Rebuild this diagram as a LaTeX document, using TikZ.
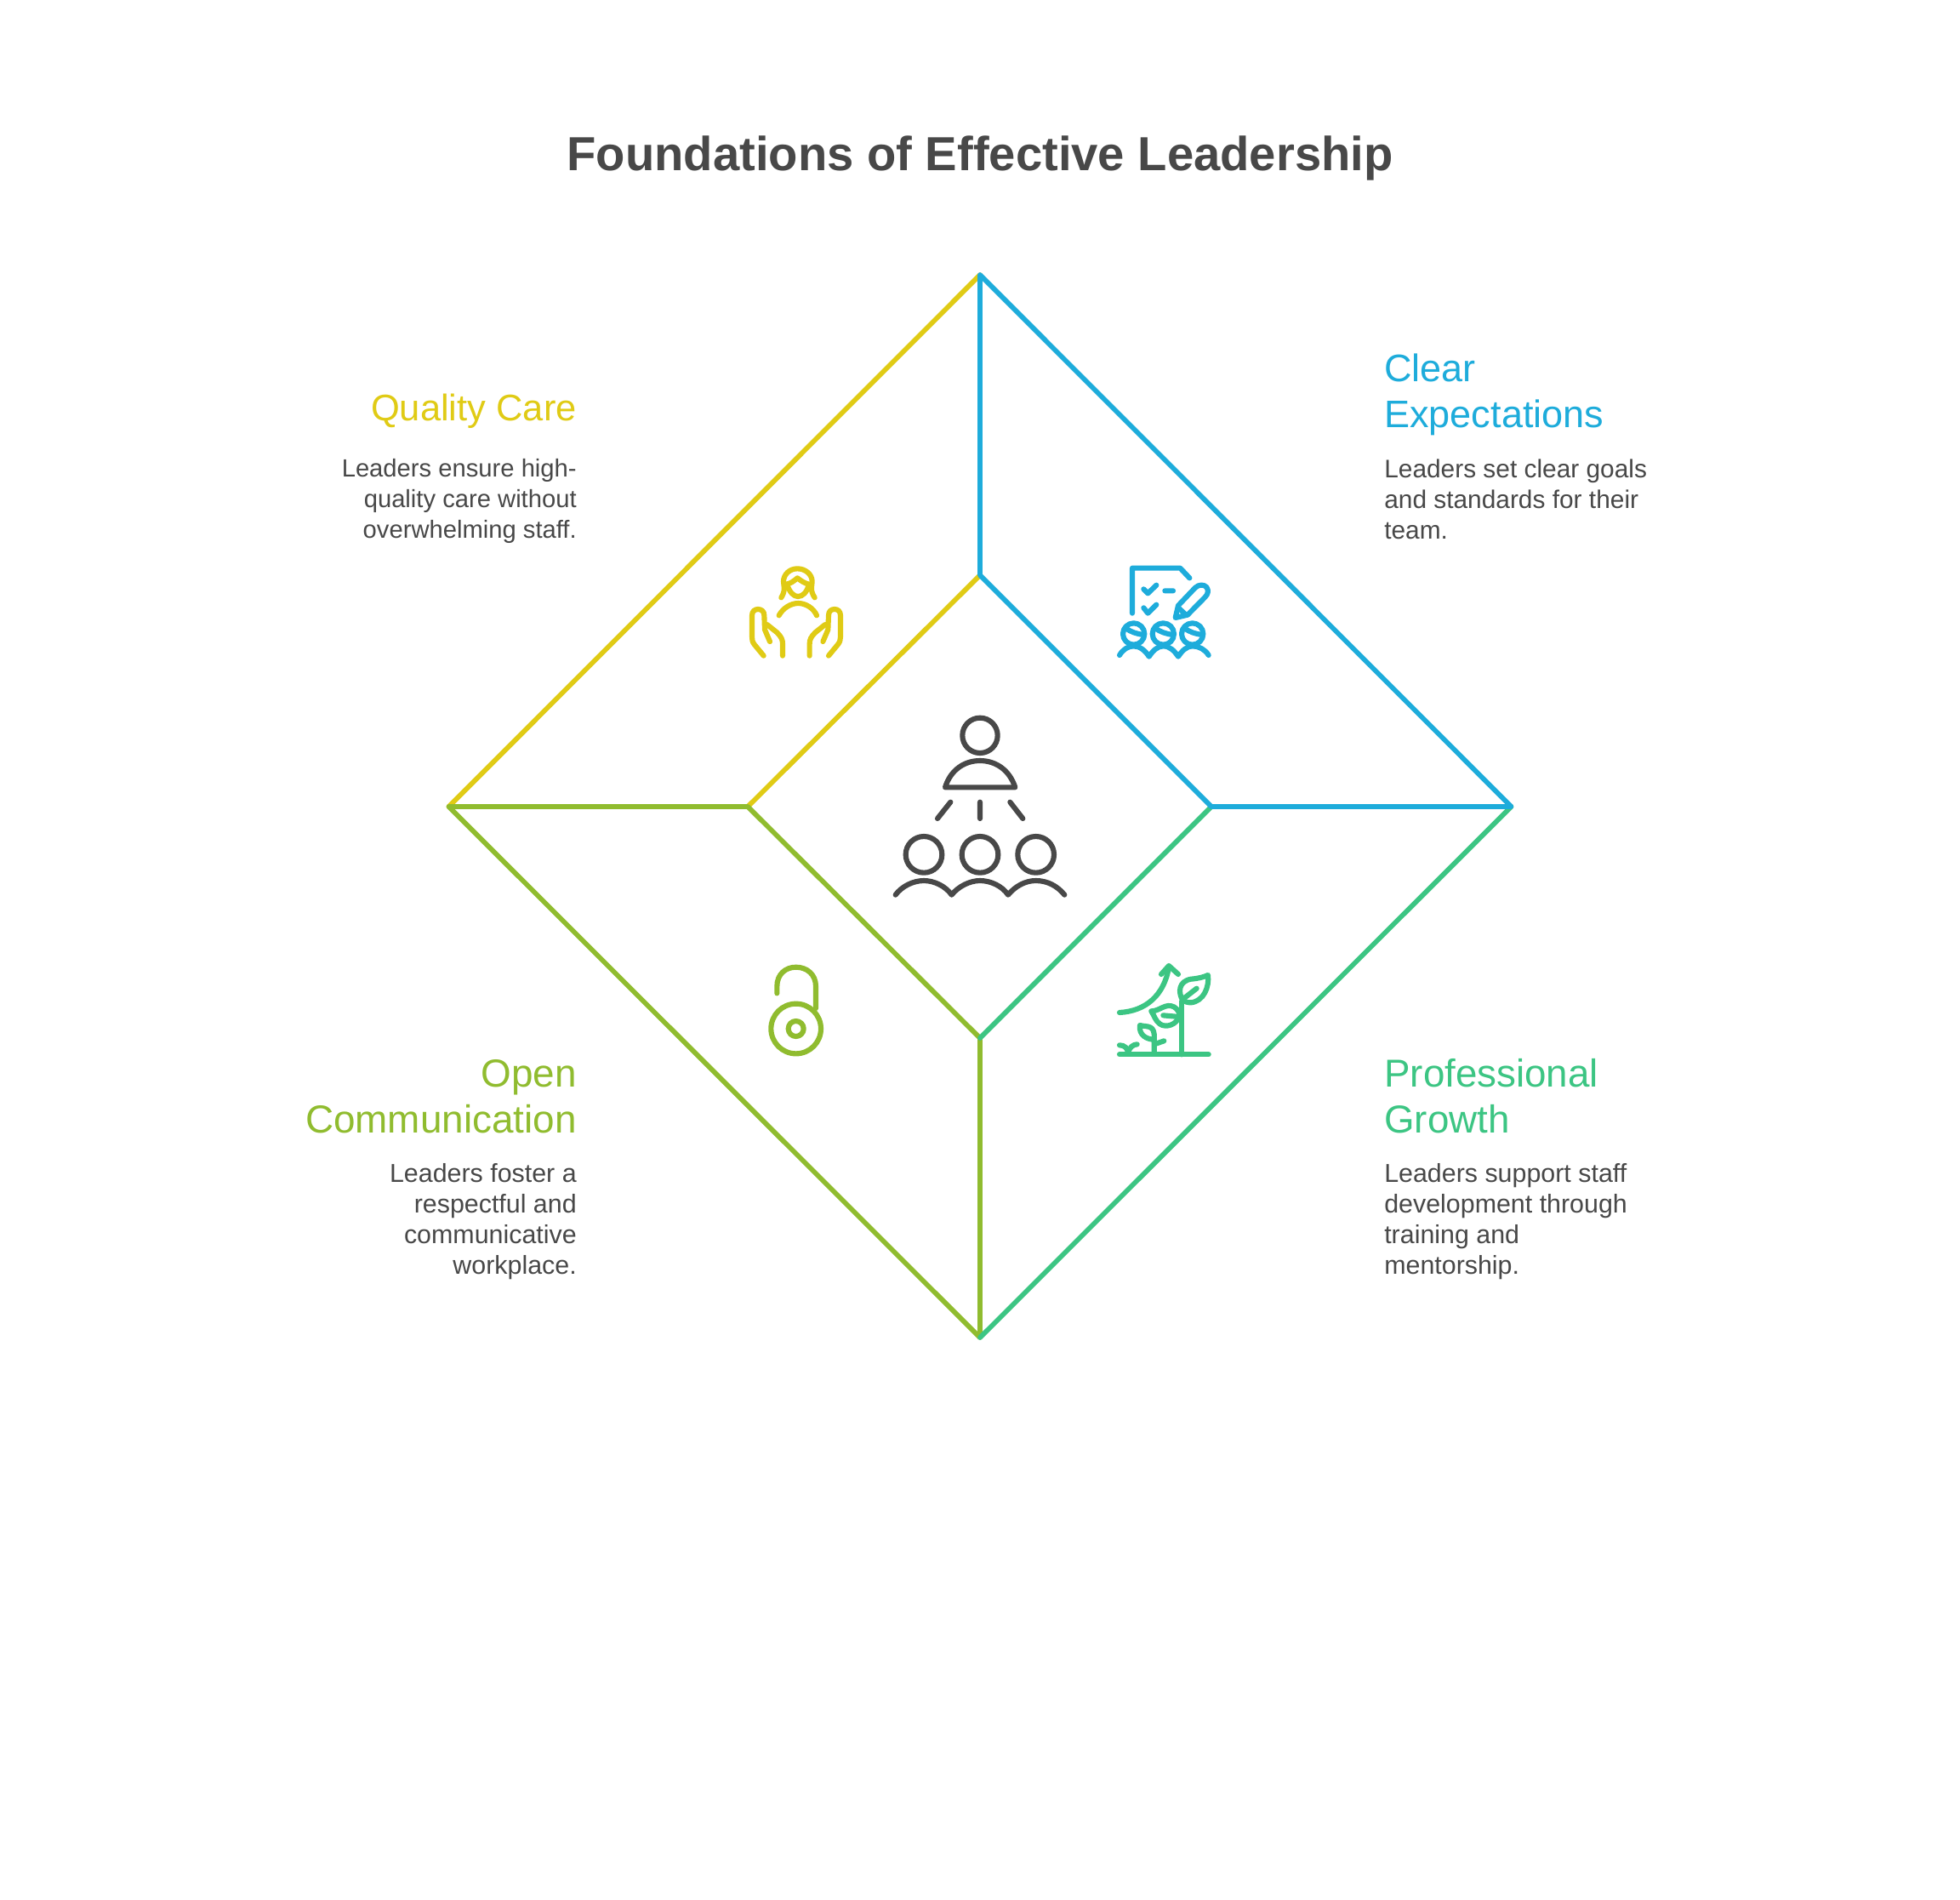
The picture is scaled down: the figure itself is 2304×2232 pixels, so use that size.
\documentclass[tikz,border=0pt]{standalone}
\usepackage{fontspec}
\setmainfont{Liberation Sans}
\definecolor{cy}{HTML}{E0CB15}
\definecolor{cb}{HTML}{1EACDB}
\definecolor{cg}{HTML}{3CC583}
\definecolor{co}{HTML}{90BC2F}
\definecolor{cd}{HTML}{484848}
\tikzset{
  edge/.style={line width=4.3pt,line cap=round,line join=round},
  ico/.style={line width=4.6pt,line cap=round,line join=round},
  head/.style={inner sep=0pt},
  body/.style={inner sep=0pt,text=cd},
}
\newcommand{\hfs}[1]{\fontsize{#1}{40.5}\selectfont}
\newcommand{\bfs}[1]{\fontsize{#1}{27}\selectfont}
\begin{document}
\begin{tikzpicture}[x=0.75pt,y=-0.75pt]
\path[use as bounding box,fill=white] (0,0) rectangle (2304,2232);
\node[inner sep=0pt,text=cd,font=\fontsize{42.15}{50}\selectfont\bfseries] (title) at (1152,186) {Foundations of Effective Leadership};
\coordinate (T) at (1152,323);
\coordinate (R) at (1776.5,948);
\coordinate (B) at (1152,1572);
\coordinate (L) at (527.5,948);
\coordinate (t) at (1152,676);
\coordinate (r) at (1424,948);
\coordinate (b) at (1152,1220);
\coordinate (l) at (879,948);
\draw[edge,cy] (T)--(L) (t)--(l);
\draw[edge,co] (L)--(B)--(b) (L)--(l)--(b);
\draw[edge,cg] (R)--(B) (r)--(b);
\draw[edge,cb] (T)--(R)--(r)--(t)--(T);
% centre
\begin{scope}[shift={(1030,820)},scale=1/3,cd,ico]
\draw (366,133) circle (62);
\draw (243,316)..controls (262,255) and (310,222)..(366,222)..controls (422,222) and (470,255)..(490,316)--cycle;
\draw (262,368)--(216,426) (366,368)--(366,426) (472,368)--(517,426);
\draw (168,553) circle (64) (366,553) circle (64) (563,553) circle (64);
\draw (68,695)..controls (90,665) and (130,645)..(168,645)..controls (205,645) and (245,665)..(266,695)..controls (290,665) and (330,645)..(366,645)..controls (405,645) and (445,665)..(465,695)..controls (490,665) and (525,645)..(563,645)..controls (605,645) and (640,665)..(664,695);
\end{scope}
% quality care
\begin{scope}[shift={(850,640)},scale=1/3,cy,ico]
\draw (205,187)..controls (222,160) and (213,145)..(213,130)..controls (213,105) and (235,85)..(262,85)..controls (290,85) and (314,105)..(314,130)..controls (314,145) and (305,160)..(323,187);
\draw (225,140)..controls (235,170) and (250,183)..(264,183)..controls (280,183) and (295,170)..(303,140);
\draw (222,140)..controls (238,138) and (250,128)..(262,118)..controls (275,128) and (290,138)..(303,140);
\draw (197,250)..controls (210,225) and (238,207)..(265,207)..controls (292,207) and (320,225)..(330,250);
\draw (143,392)--(110,352)..controls (103,343) and (102,335)..(102,325)--(102,250)..controls (102,235) and (112,228)..(123,228)..controls (135,228) and (145,235)..(145,250)--(147,300)--(165,342);
\draw (155,282)--(190,310)..controls (205,325) and (210,335)..(210,350)--(210,392);
\draw (372,392)--(405,352)..controls (412,343) and (414,335)..(414,325)--(414,250)..controls (414,235) and (404,228)..(393,228)..controls (381,228) and (372,235)..(372,250)--(370,300)--(352,342);
\draw (360,282)--(325,310)..controls (310,325) and (305,335)..(305,350)--(305,392);
\end{scope}
% clear expectations
\begin{scope}[shift={(1290,640)},scale=1/3,cb,ico]
\draw (123,242)--(123,83)--(292,83)--(325,118);
\draw (163,157)--(178,172)--(208,143) (163,223)--(178,242)--(208,212) (238,163)--(267,163);
\draw (275,258)--(285,215)--(345,152)..controls (358,140) and (375,140)..(385,150)..controls (393,162) and (390,175)..(380,185)--(318,248)--cycle;
\draw (285,222)--(310,246);
\foreach \cx in {128,232,335}{
\draw (\cx,315) circle (38);
\draw (\cx-28,295)..controls (\cx-10,308) and (\cx+10,315) ..(\cx+35,318);
}
\draw (78,390)..controls (90,370) and (108,358)..(128,358)..controls (150,358) and (170,375)..(182,395)..controls (195,375) and (212,358)..(232,358)..controls (255,358) and (272,375)..(285,395)..controls (298,375) and (315,358)..(335,358)..controls (358,358) and (380,370)..(392,390);
\end{scope}
% professional growth
\begin{scope}[shift={(1290,1110)},scale=1/3,cg,ico]
\draw (78,388)--(392,388);
\draw (298,388)--(298,200);
\draw (300,195)..controls (285,170) and (285,130)..(330,122)..controls (355,120) and (375,115)..(390,108)..controls (395,150) and (375,200)..(330,205)..controls (318,205) and (308,202)..(300,195);
\draw (305,190)--(350,155);
\draw (78,240)..controls (170,235) and (235,180)..(252,80);
\draw (225,105)--(252,75)--(285,105);
\draw (190,235)..controls (220,235) and (240,205)..(270,220)..controls (285,228) and (290,245)..(290,250)..controls (280,285) and (240,295)..(220,280)..controls (205,270) and (200,250)..(190,235);
\draw (232,250)--(288,255);
\draw (200,382)--(200,335) (200,352)--(235,340);
\draw (150,285)..controls (175,292) and (205,280)..(200,335)..controls (175,335) and (145,320)..(150,285);
\draw (78,355)..controls (95,355) and (108,365)..(108,385) (140,352)..controls (125,352) and (110,365)..(108,385);
\end{scope}
% open communication
\begin{scope}[shift={(870,1110)},scale=1/3,co,ico]
\draw (197,297) circle (88) (197,297) circle (27);
\draw (130,172)--(130,148)..controls (130,105) and (160,80)..(197,80)..controls (235,80) and (267,105)..(267,148)--(267,225);
\end{scope}
% text
\node[head,text=cy,align=right,anchor=base east,font=\hfs{32.6}] (h1) at (678,494) {Quality Care};
\node[body,align=right,anchor=north east,font=\bfs{21.9}] (b1) at (678,539) {Leaders ensure high-\\quality care without\\overwhelming staff.};
\node[head,text=cb,align=left,anchor=north west,font=\hfs{33.8}] (h2) at (1627,416) {Clear\\Expectations};
\node[body,align=left,anchor=north west,font=\bfs{22.4}] (b2) at (1627,540) {Leaders set clear goals\\and standards for their\\team.};
\node[head,text=co,align=right,anchor=north east,font=\hfs{34.4}] (h3) at (678,1245) {Open\\Communication};
\node[body,align=right,anchor=north east,font=\bfs{22.8}] (b3) at (678,1367) {Leaders foster a\\respectful and\\communicative\\workplace.};
\node[head,text=cg,align=left,anchor=north west,font=\hfs{34.3}] (h4) at (1627,1244) {Professional\\Growth};
\node[body,align=left,anchor=north west,font=\bfs{22.8}] (b4) at (1627,1367) {Leaders support staff\\development through\\training and\\mentorship.};
\end{tikzpicture}
\end{document}
